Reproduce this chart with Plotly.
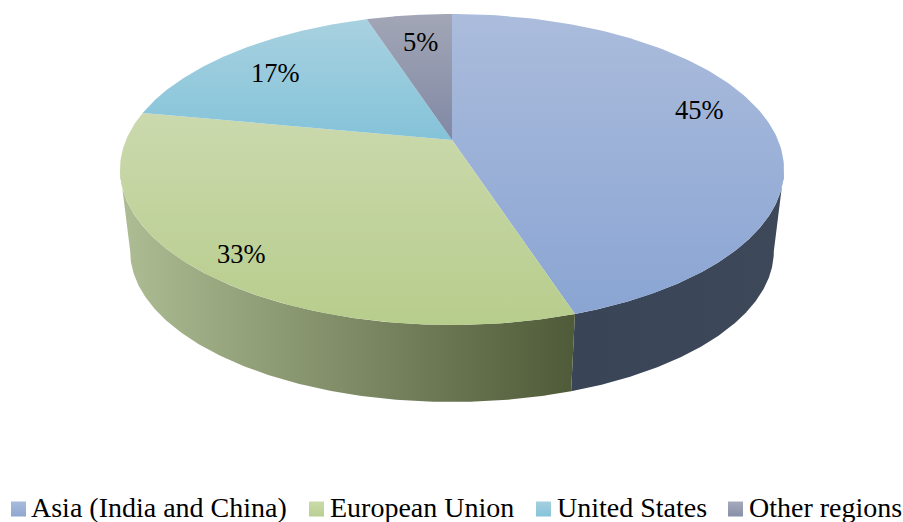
import numpy as np
import plotly.graph_objects as go

categories = ["Asia (India and China)", "European Union", "United States", "Other regions"]
values = [45, 33, 17, 5]
top_colors = [("#abbcdc", "#8aa5d3"), ("#cbd9ad", "#b7cd8c"), ("#a8d1e0", "#84c3d9"), ("#a2a6b6", "#8089a4")]
side_colors = [("#394557", "#3d4859"), ("#aebd94", "#4f5a38"), ("#7fb0c2", "#4f8192"), ("#6d7488", "#4a5066")]
swatch_colors = [("#a9bbdb", "#8fa8d0"), ("#cbdba9", "#b9cf91"), ("#a5d0df", "#86c4d9"), ("#a5aabb", "#8790a8")]
label_xy = [(699, 110), (241, 254), (275, 73), (420, 42)]
legend_swatch_x = [18.5, 316.5, 543.5, 735.5]
legend_text_x = [31, 330, 557, 749]

CX, K = 452, 0.1897
TOP = dict(a=326.0, b=149.9, y0=140.0)
BOT = dict(a=316.0, b=145.4, y0=222.5)


def project(theta, g):
    u, v = np.sin(theta), np.cos(theta)
    w = 1 + K * v
    return CX + g["a"] * u / w, g["y0"] - g["b"] * v / w


fractions = np.cumsum([0] + values) / sum(values)
fig = go.Figure()

# front-facing part of the wall lies between the two silhouette angles
vis_lo = np.arccos(-K)
vis_hi = 2 * np.pi - vis_lo

for i in range(len(values)):
    lo = max(fractions[i] * 2 * np.pi, vis_lo)
    hi = min(fractions[i + 1] * 2 * np.pi, vis_hi)
    if hi <= lo:
        continue
    t = np.linspace(lo, hi, 160)
    xt, yt = project(t, TOP)
    xb, yb = project(t, BOT)
    fig.add_trace(go.Scatter(
        x=np.r_[xt, xb[::-1], xt[0]], y=np.r_[yt, yb[::-1], yt[0]],
        mode="lines", line=dict(width=0), fill="toself", hoverinfo="skip", showlegend=False,
        fillgradient=dict(type="horizontal", colorscale=[[0, side_colors[i][0]], [1, side_colors[i][1]]]),
    ))

for i in range(len(values)):
    t = np.linspace(fractions[i], fractions[i + 1], 160) * 2 * np.pi
    xt, yt = project(t, TOP)
    fig.add_trace(go.Scatter(
        x=np.r_[CX, xt, CX], y=np.r_[TOP["y0"], yt, TOP["y0"]],
        mode="lines", line=dict(width=0), fill="toself", name=categories[i], showlegend=False,
        fillgradient=dict(type="vertical", colorscale=[[0, top_colors[i][1]], [1, top_colors[i][0]]]),
    ))

# legend swatches
for i, c in enumerate(categories):
    fig.add_trace(go.Scatter(
        x=[legend_swatch_x[i]], y=[509], mode="markers", name=c, showlegend=False, hoverinfo="name",
        marker=dict(symbol="square", size=15, color=swatch_colors[i][0], line=dict(width=0),
                    gradient=dict(type="vertical", color=swatch_colors[i][1])),
    ))

font = dict(family="Liberation Serif", color="#000000")
annotations = []
for (x, y), v in zip(label_xy, values):
    annotations.append(dict(x=x, y=y, text=f"{v}%", showarrow=False, xanchor="center", yanchor="middle",
                            font=dict(size=26.5, **font)))
for x, c in zip(legend_text_x, categories):
    annotations.append(dict(x=x, y=507.5, text=c, showarrow=False, xanchor="left", yanchor="middle",
                            font=dict(size=28, **font), xshift=-2))

fig.update_layout(
    width=903, height=522, margin=dict(l=0, r=0, t=0, b=0),
    paper_bgcolor="white", plot_bgcolor="white", showlegend=False,
    xaxis=dict(range=[0, 903], visible=False, fixedrange=True),
    yaxis=dict(range=[522, 0], visible=False, fixedrange=True),
    annotations=annotations,
)
fig.write_html("out.html", config={"displayModeBar": False},
               post_script="document.body.style.margin='0';document.body.style.overflow='hidden';")
